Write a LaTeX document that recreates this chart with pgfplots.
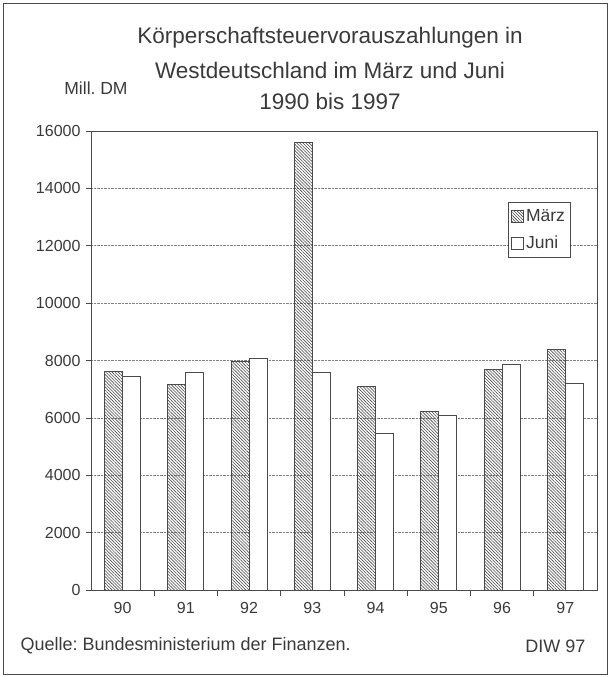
\documentclass[border=0pt]{standalone}
\usepackage{fontspec}
\setmainfont{Liberation Sans}
\usepackage{pgfplots}
\pgfplotsset{compat=1.18}
\usetikzlibrary{patterns.meta}
\definecolor{txt}{HTML}{3A3A3A}
\definecolor{frm}{HTML}{4A4A4A}
\frenchspacing
\begin{document}
\begin{tikzpicture}[x=1pt,y=1pt]
\path[use as bounding box] (0pt,0pt) rectangle (610pt,677pt);
\draw[frm,line width=0.6pt] (3pt,3pt) rectangle (607pt,674pt);
\node[txt,font=\fontsize{22.5}{26}\selectfont] at (330pt,639pt) {Körperschaftsteuervorauszahlungen in};
\node[txt,font=\fontsize{22.5}{26}\selectfont] at (330pt,607pt) {Westdeutschland im März und Juni};
\node[txt,font=\fontsize{22.5}{26}\selectfont] at (330pt,576pt) {1990 bis 1997};
\node[txt,font=\fontsize{17.5}{20}\selectfont] at (96pt,589pt) {Mill. DM};
\node[txt,font=\fontsize{18}{21}\selectfont,anchor=west] at (17pt,31pt) {Quelle: Bundesministerium der Finanzen.};
\node[txt,font=\fontsize{18}{21}\selectfont,anchor=east] at (589pt,31pt) {DIW 97};
\begin{axis}[
  at={(91pt,87pt)}, anchor=south west,
  scale only axis, width=506pt, height=459pt,
  xmin=-0.5, xmax=7.5, ymin=0, ymax=16000,
  ybar=0pt, bar width=18pt,
  xtick={0,...,7}, xticklabels={90,91,92,93,94,95,96,97},
  major x tick style={draw=none},
  minor xtick={0.5,1.5,...,6.5},
  minor tick length=6pt,
  ytick={0,2000,...,16000},
  scaled y ticks=false,
  /pgf/number format/1000 sep={},
  /pgf/number format/assume math mode=true,
  tick align=outside, tick pos=left,
  major tick length=5pt,
  ymajorgrids, grid style={densely dotted, gray, line width=0.5pt},
  axis line style={frm, line width=0.7pt},
  tick style={frm, line width=0.6pt},
  ticklabel style={txt, font=\fontsize{16}{18}\selectfont},
  yticklabel style={xshift=-2pt},
  xticklabel style={yshift=-4pt},
  legend style={at={(0.824,0.845)}, anchor=north west, draw=frm, fill=white,
    font=\fontsize{17.5}{20}\selectfont, text=txt, inner xsep=3pt, inner ysep=5pt,
    row sep=9pt, cells={anchor=west}},
  legend image code/.code={\draw[#1] (0pt,-6pt) rectangle (12pt,6pt);},
]
\addplot[draw=frm, line width=0.9pt, pattern={Lines[angle=-45,distance=2.2pt,line width=0.6pt]}, pattern color=frm]
  coordinates {(0,7620) (1,7150) (2,7980) (3,15600) (4,7100) (5,6210) (6,7690) (7,8390)};
\addlegendentry{März}
\addplot[draw=frm, line width=0.9pt, fill=white]
  coordinates {(0,7440) (1,7570) (2,8080) (3,7600) (4,5440) (5,6080) (6,7870) (7,7200)};
\addlegendentry{Juni}
\end{axis}
\end{tikzpicture}
\end{document}
